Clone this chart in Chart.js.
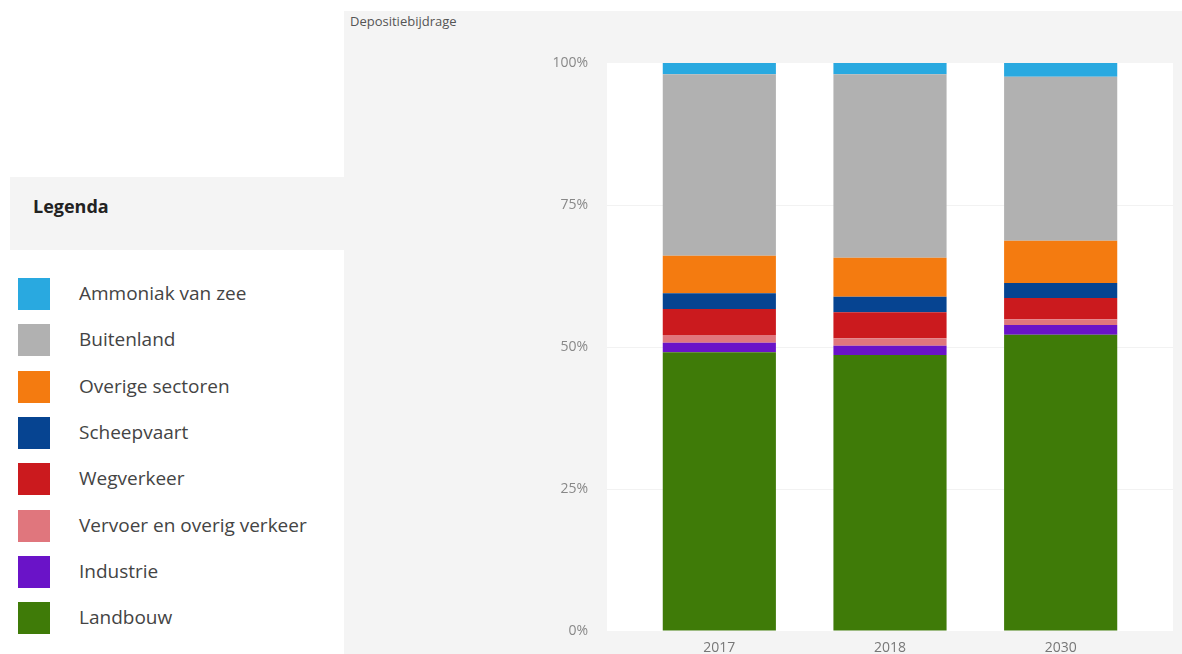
<!DOCTYPE html>
<html>
<head>
<meta charset="utf-8">
<script src="https://cdn.jsdelivr.net/npm/chart.js@4/dist/chart.umd.min.js"></script>
<style>
  body { margin: 0; width: 1182px; height: 654px; background: #fff; position: relative; overflow: hidden; font-family: "Open Sans", sans-serif; }
  #panel { position: absolute; left: 344px; top: 11px; width: 838px; height: 643px; background: #f4f4f4; }
  #title { position: absolute; left: 6px; top: 1px; font-size: 13px; color: #555; }
  #chart { position: absolute; left: 0; top: 0; }
  #legendHead { position: absolute; left: 10px; top: 177px; width: 334px; height: 73px; background: #f4f4f4; }
  #legendHead span { position: absolute; left: 23px; top: 17px; font-size: 18px; font-weight: bold; color: #222; }
  .item { position: absolute; left: 18px; height: 32px; }
  .item i { position: absolute; left: 0; top: 0; width: 32px; height: 32px; }
  .item span { position: absolute; left: 61px; top: 2px; white-space: nowrap; font-size: 19px; color: #444; }
</style>
</head>
<body>
<div id="legendHead"><span>Legenda</span></div>
<div id="legend"></div>
<div id="panel">
  <div id="title">Depositiebijdrage</div>
  <canvas id="chart" width="838" height="643"></canvas>
</div>
<script>
const years = ["2017", "2018", "2030"]
const yTicks = [0, 25, 50, 75, 100]

// bottom to top
const landbouw   = [49.07, 48.59, 52.17]
const industrie  = [1.69, 1.64, 1.71]
const vervoer    = [1.36, 1.30, 1.00]
const wegverkeer = [4.58, 4.58, 3.75]
const scheepvaart = [2.76, 2.75, 2.64]
const overige    = [6.62, 6.87, 7.45]
const buitenland = [31.94, 32.29, 28.87]
const ammoniak   = [1.99, 1.99, 2.41]

const series = [
  { label: "Landbouw", data: landbouw, color: "#3f7b08" },
  { label: "Industrie", data: industrie, color: "#6a13c8" },
  { label: "Vervoer en overig verkeer", data: vervoer, color: "#e0767d" },
  { label: "Wegverkeer", data: wegverkeer, color: "#cb1a1e" },
  { label: "Scheepvaart", data: scheepvaart, color: "#064491" },
  { label: "Overige sectoren", data: overige, color: "#f47b10" },
  { label: "Buitenland", data: buitenland, color: "#b1b1b1" },
  { label: "Ammoniak van zee", data: ammoniak, color: "#29a9e0" }
]

// legend list, top item first
const legendEl = document.getElementById("legend")
series.slice().reverse().forEach((s, i) => {
  const d = document.createElement("div")
  d.className = "item"
  d.style.top = (278 + i * 46.3) + "px"
  d.innerHTML = '<i style="background:' + s.color + '"></i><span>' + s.label + '</span>'
  legendEl.appendChild(d)
})

// white plot background wider than the category range, with faint grid lines
const plotBg = {
  id: "plotBg",
  beforeDatasetsDraw(chart) {
    const { ctx, chartArea, scales } = chart
    const x0 = chartArea.left - 27, x1 = chartArea.right + 27
    ctx.save()
    ctx.fillStyle = "#ffffff"
    ctx.fillRect(x0, chartArea.top, x1 - x0, chartArea.bottom - chartArea.top)
    ctx.strokeStyle = "#f2f2f2"
    ctx.lineWidth = 1
    ;[25, 50, 75].forEach(v => {
      const y = Math.round(scales.y.getPixelForValue(v)) + 0.5
      ctx.beginPath()
      ctx.moveTo(x0, y)
      ctx.lineTo(x1, y)
      ctx.stroke()
    })
    ctx.restore()
  }
}

new Chart(document.getElementById("chart").getContext("2d"), {
  type: "bar",
  data: {
    labels: years,
    datasets: series.map(s => ({
      label: s.label,
      data: s.data,
      backgroundColor: s.color,
      borderWidth: 0,
      barPercentage: 0.663,
      categoryPercentage: 1
    }))
  },
  options: {
    responsive: false,
    animation: false,
    layout: { padding: { left: 0, top: 52, right: 36, bottom: 0 } },
    plugins: { legend: { display: false }, tooltip: { enabled: false } },
    scales: {
      x: {
        stacked: true,
        grid: { display: false, drawTicks: false },
        border: { display: false },
        ticks: { color: "#777", font: { family: "Open Sans", size: 14 }, padding: 9 },
        afterFit(scale) { scale.height = 23 }
      },
      y: {
        stacked: true,
        min: 0,
        max: 100,
        afterBuildTicks(scale) { scale.ticks = yTicks.map(v => ({ value: v })) },
        // tick length used only as the gap between labels and plot
        grid: { display: true, color: "transparent", drawTicks: true, tickLength: 46 },
        border: { display: false },
        ticks: {
          color: "#888",
          font: { family: "Open Sans", size: 14 },
          padding: 0,
          callback: v => v + "%"
        },
        afterFit(scale) { scale.width = 290 }
      }
    }
  },
  plugins: [plotBg]
})
</script>
</body>
</html>
